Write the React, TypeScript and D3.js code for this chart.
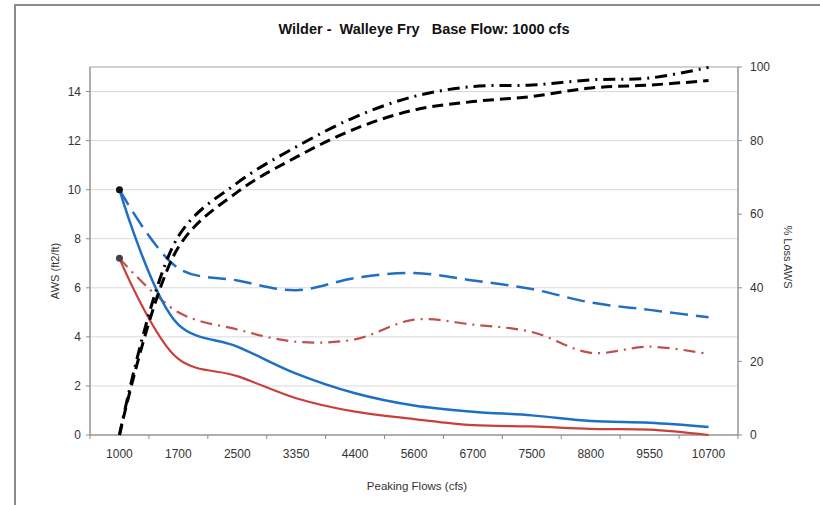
import React from 'react';
import * as d3 from 'd3';

const flows = ['1000', '1700', '2500', '3350', '4400', '5600', '6700', '7500', '8800', '9550', '10700'];

// AWS (ft2/ft), left axis
const awsBlue = [10.0, 4.5, 3.6, 2.5, 1.7, 1.2, 0.95, 0.8, 0.57, 0.5, 0.33];
const awsRed = [7.2, 3.1, 2.4, 1.5, 0.95, 0.65, 0.4, 0.35, 0.25, 0.22, 0.0];
const awsBlueDashed = [10.0, 6.8, 6.3, 5.9, 6.4, 6.6, 6.3, 5.95, 5.4, 5.1, 4.8];
const awsRedDashDot = [7.2, 5.0, 4.3, 3.8, 3.9, 4.7, 4.5, 4.2, 3.35, 3.6, 3.3];

// % Loss AWS, right axis
const lossDashed = [0, 51, 66, 75.5, 83.2, 88.3, 90.6, 92, 94.3, 95.1, 96.3];
const lossDashDot = [0, 54, 68.5, 78.3, 86.4, 92, 94.7, 95.1, 96.5, 97, 99.9];

const leftTicks = [0, 2, 4, 6, 8, 10, 12, 14];
const rightTicks = [0, 20, 40, 60, 80, 100];

const W = 820;
const H = 505;
const m = { left: 90, right: 738, top: 67, bottom: 435 };
const font = '"Liberation Sans", Arial, sans-serif';

const App: React.FC = () => {
  const x = d3.scaleBand().domain(flows).range([m.left, m.right]);
  const cx = (i: number) => x(flows[i])! + x.bandwidth() / 2;
  const yL = d3.scaleLinear().domain([0, 15]).range([m.bottom, m.top]);
  const yR = d3.scaleLinear().domain([0, 100]).range([m.bottom, m.top]);

  const lineL = d3.line<number>().x((_, i) => cx(i)).y(d => yL(d)).curve(d3.curveCatmullRom);
  const lineR = d3.line<number>().x((_, i) => cx(i)).y(d => yR(d)).curve(d3.curveCatmullRom);

  const boundaries = d3.range(flows.length + 1).map(i => m.left + i * x.bandwidth());

  return (
    <svg width={W} height={H} style={{ position: 'absolute', left: 0, top: 0, background: '#fff' }} fontFamily={font}>
      {/* outer frame */}
      <path d={`M15,${H} L15,5 L${W},5`} fill="none" stroke="#8c8c8c" strokeWidth={2} />

      {/* gridlines */}
      {leftTicks.filter(t => t > 0).map(t => (
        <line key={t} x1={m.left} x2={m.right} y1={yL(t)} y2={yL(t)} stroke="#d9d9d9" strokeWidth={1} />
      ))}
      <rect x={m.left} y={m.top} width={m.right - m.left} height={m.bottom - m.top} fill="none" stroke="#a6a6a6" strokeWidth={1} />

      {/* left axis */}
      <line x1={m.left} x2={m.left} y1={m.top} y2={m.bottom} stroke="#8c8c8c" />
      {leftTicks.map(t => (
        <g key={t}>
          <line x1={m.left - 4} x2={m.left} y1={yL(t)} y2={yL(t)} stroke="#8c8c8c" />
          <text x={m.left - 9} y={yL(t)} dy="0.35em" textAnchor="end" fontSize={12} fill="#333">{t}</text>
        </g>
      ))}
      <text transform={`translate(59,${(m.top + m.bottom) / 2 + 20}) rotate(-90)`} textAnchor="middle" fontSize={11} fill="#333">AWS (ft2/ft)</text>

      {/* right axis */}
      <line x1={m.right} x2={m.right} y1={m.top} y2={m.bottom} stroke="#8c8c8c" />
      {rightTicks.map(t => (
        <g key={t}>
          <line x1={m.right} x2={m.right + 4} y1={yR(t)} y2={yR(t)} stroke="#8c8c8c" />
          <text x={m.right + 12} y={yR(t)} dy="0.35em" textAnchor="start" fontSize={12} fill="#333">{t}</text>
        </g>
      ))}
      <text transform={`translate(784,${(m.top + m.bottom) / 2 + 6}) rotate(90)`} textAnchor="middle" fontSize={11} fill="#333">% Loss AWS</text>

      {/* x axis */}
      <line x1={m.left} x2={m.right} y1={m.bottom} y2={m.bottom} stroke="#8c8c8c" />
      {boundaries.map((b, i) => (
        <line key={i} x1={b} x2={b} y1={m.bottom} y2={m.bottom + 4} stroke="#8c8c8c" />
      ))}
      {flows.map((f, i) => (
        <text key={f} x={cx(i)} y={m.bottom + 19} dy="0.35em" textAnchor="middle" fontSize={12} fill="#333">{f}</text>
      ))}
      <text x={417} y={486} dy="0.35em" textAnchor="middle" fontSize={11.5} fill="#333">Peaking Flows (cfs)</text>

      {/* series */}
      <path d={lineL(awsBlueDashed)!} fill="none" stroke="#1f6fc5" strokeWidth={2.5} strokeDasharray="18 8" />
      <path d={lineL(awsRedDashDot)!} fill="none" stroke="#c0504d" strokeWidth={2.2} strokeDasharray="12 6 2 6" />
      <path d={lineL(awsBlue)!} fill="none" stroke="#1f6fc5" strokeWidth={2.5} />
      <path d={lineL(awsRed)!} fill="none" stroke="#c9403a" strokeWidth={2.2} />
      <path d={lineR(lossDashed)!} fill="none" stroke="#000" strokeWidth={3} strokeDasharray="11 6" />
      <path d={lineR(lossDashDot)!} fill="none" stroke="#000" strokeWidth={3} strokeDasharray="12 6 2 6" />

      <circle cx={cx(0)} cy={yL(awsBlue[0])} r={3.5} fill="#111" />
      <circle cx={cx(0)} cy={yL(awsRed[0])} r={3.5} fill="#444" />

      {/* title */}
      <text x={424} y={29} dy="0.35em" textAnchor="middle" fontSize={14.5} fontWeight="bold" fill="#111" style={{ whiteSpace: 'pre' }}>Wilder -  Walleye Fry   Base Flow: 1000 cfs</text>
    </svg>
  );
};

export default App;
